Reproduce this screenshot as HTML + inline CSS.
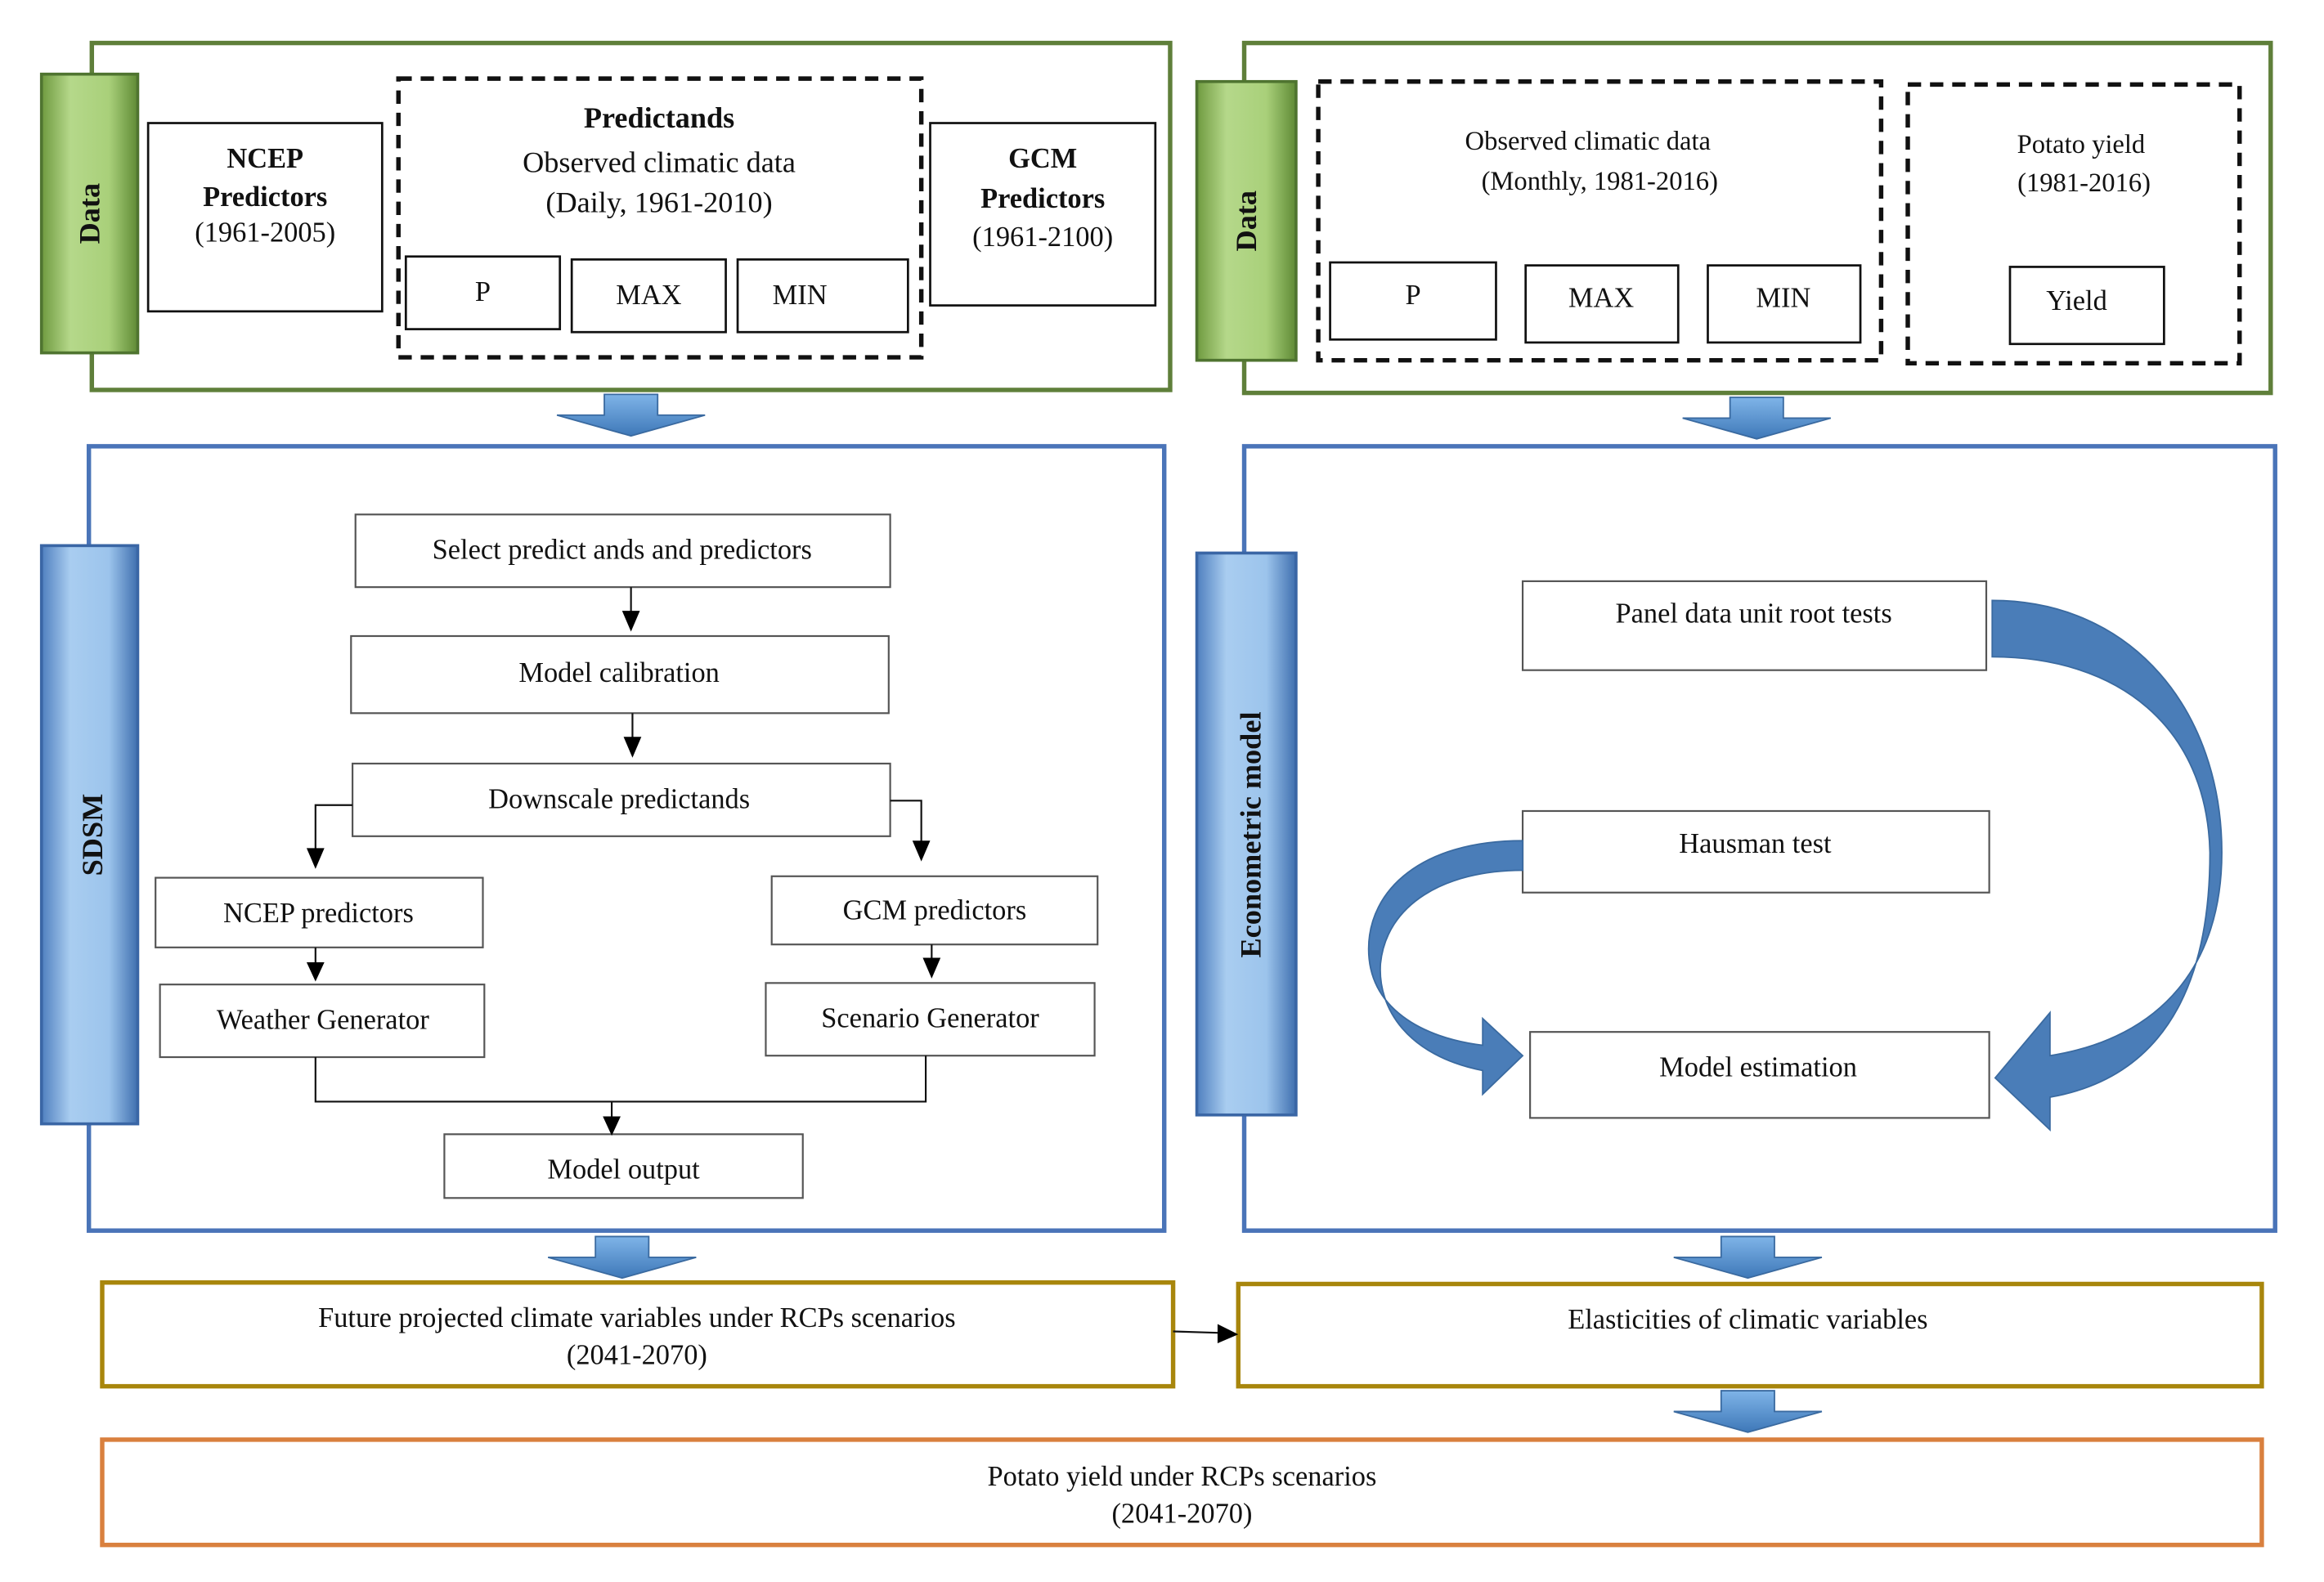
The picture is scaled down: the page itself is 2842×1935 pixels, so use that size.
<!DOCTYPE html>
<html><head><meta charset="utf-8"><style>html,body{margin:0;padding:0;background:#fff}svg{display:block}svg text{font-family:"Liberation Serif","DejaVu Serif",serif}</style></head><body>
<svg width="2842" height="1935" viewBox="0 0 1569 1067" preserveAspectRatio="none" xmlns="http://www.w3.org/2000/svg" font-size="19" fill="#111">
<defs>
<linearGradient id="gt" x1="0" x2="1"><stop offset="0" stop-color="#6f9a3f"/><stop offset="0.3" stop-color="#b5d88a"/><stop offset="0.7" stop-color="#a9d07a"/><stop offset="1" stop-color="#5f8a35"/></linearGradient>
<linearGradient id="bt" x1="0" x2="1"><stop offset="0" stop-color="#4f7fbf"/><stop offset="0.3" stop-color="#a9cdf0"/><stop offset="0.7" stop-color="#9cc4ec"/><stop offset="1" stop-color="#3f6faf"/></linearGradient>
<linearGradient id="ba" x1="0" x2="0" y1="0" y2="1"><stop offset="0" stop-color="#7fb4e8"/><stop offset="1" stop-color="#3e78b8"/></linearGradient>
<g id="da"><path d="M-18,0 H18 V14 H50 L0,28 L-50,14 H-18 Z" fill="url(#ba)" stroke="#3a6aa0" stroke-width="1"/></g>
</defs>
<g fill="none" stroke-width="3">
<rect x="62" y="29" width="728" height="234" stroke="#5f7f3a"/>
<rect x="840" y="29" width="693" height="236" stroke="#5f7f3a"/>
<rect x="60" y="301" width="726" height="529" stroke="#4a74b8"/>
<rect x="840" y="301" width="696" height="529" stroke="#4a74b8"/>
<rect x="69" y="865" width="723" height="70" stroke="#a8860c"/>
<rect x="836" y="866" width="691" height="69" stroke="#a8860c"/>
<rect x="69" y="971" width="1458" height="71" stroke="#d9803e"/>
</g>
<rect x="28" y="50" width="65" height="188" fill="url(#gt)" stroke="#4f7430" stroke-width="2"/>
<rect x="808" y="55" width="67" height="188" fill="url(#gt)" stroke="#4f7430" stroke-width="2"/>
<rect x="28" y="368" width="65" height="390" fill="url(#bt)" stroke="#3a66a5" stroke-width="2"/>
<rect x="808" y="373" width="67" height="379" fill="url(#bt)" stroke="#3a66a5" stroke-width="2"/>
<g font-weight="bold" font-size="20">
<text transform="translate(67,144) rotate(-90)" text-anchor="middle">Data</text>
<text transform="translate(848,149) rotate(-90)" text-anchor="middle">Data</text>
<text transform="translate(69,563) rotate(-90)" text-anchor="middle">SDSM</text>
<text transform="translate(851,563) rotate(-90)" text-anchor="middle">Econometric model</text>
</g>
<g fill="none" stroke="#111" stroke-width="1.5">
<rect x="100" y="83" width="158" height="127"/>
<rect x="628" y="83" width="152" height="123"/>
<rect x="274" y="173" width="104" height="49"/>
<rect x="386" y="175" width="104" height="49"/>
<rect x="498" y="175" width="115" height="49"/>
<rect x="898" y="177" width="112" height="52"/>
<rect x="1030" y="179" width="103" height="52"/>
<rect x="1153" y="179" width="103" height="52"/>
<rect x="1357" y="180" width="104" height="52"/>
<g stroke-dasharray="9,6" stroke-width="3">
<rect x="269" y="53" width="353" height="188"/>
<rect x="890" y="55" width="380" height="188"/>
<rect x="1288" y="57" width="224" height="188"/>
</g>
<g stroke="#555" stroke-width="1.2">
<rect x="240" y="347" width="361" height="49"/>
<rect x="237" y="429" width="363" height="52"/>
<rect x="238" y="515" width="363" height="49"/>
<rect x="105" y="592" width="221" height="47"/>
<rect x="108" y="664" width="219" height="49"/>
<rect x="521" y="591" width="220" height="46"/>
<rect x="517" y="663" width="222" height="49"/>
<rect x="300" y="765" width="242" height="43"/>
<rect x="1028" y="392" width="313" height="60"/>
<rect x="1028" y="547" width="315" height="55"/>
<rect x="1033" y="696" width="310" height="58"/>
</g>
<path d="M426,396 V414 M427,481 V499 M238,543 H213 V574 M601,540 H622 V569 M213,639 V651 M629,637 V648 M213,713 V743 H625 V712 M413,743 V755 M792,898 L824,899" stroke-width="1.2"/>
</g>
<g fill="#000">
<path d="M420,412 H432 L426,426 Z"/><path d="M421,497 H433 L427,511 Z"/>
<path d="M207,572 H219 L213,586 Z"/><path d="M616,567 H628 L622,581 Z"/>
<path d="M207,649 H219 L213,662 Z"/><path d="M623,646 H635 L629,660 Z"/>
<path d="M407,753 H419 L413,766 Z"/><path d="M822,893 V906 L836,900 Z"/>
</g>
<use href="#da" x="426" y="266"/><use href="#da" x="1186" y="268"/>
<use href="#da" x="420" y="834"/><use href="#da" x="1180" y="834"/><use href="#da" x="1180" y="938"/>
<g fill="#4a7db8" stroke="#3a6aa0" stroke-width="1">
<path d="M1345,405 C1440,405 1500,480 1500,575 C1500,650 1460,700 1384,712 L1384,683 L1347,727 L1384,762 L1384,740 C1470,725 1492,650 1492,575 C1490,490 1430,443 1345,443 Z"/>
<path d="M1028,567 C960,567 924,600 924,640 C924,680 960,700 1001,705 L1001,687 L1028,712 L1001,738 L1001,722 C950,712 930,680 932,650 C936,610 975,587 1028,587 Z"/>
</g>
<g text-anchor="middle">
<text x="179" y="113" font-weight="bold">NCEP</text><text x="179" y="139" font-weight="bold">Predictors</text><text x="179" y="163">(1961-2005)</text>
<text x="704" y="113" font-weight="bold">GCM</text><text x="704" y="140" font-weight="bold">Predictors</text><text x="704" y="166">(1961-2100)</text>
<text x="445" y="86" font-weight="bold" font-size="20">Predictands</text>
<text x="445" y="116" font-size="20">Observed climatic data</text>
<text x="445" y="143" font-size="20">(Daily, 1961-2010)</text>
<text x="326" y="203">P</text><text x="438" y="205">MAX</text><text x="540" y="205">MIN</text>
<text x="1072" y="101" font-size="18">Observed climatic data</text>
<text x="1080" y="128" font-size="18">(Monthly, 1981-2016)</text>
<text x="1405" y="103" font-size="18">Potato yield</text><text x="1407" y="129" font-size="18">(1981-2016)</text>
<text x="954" y="205">P</text><text x="1081" y="207">MAX</text><text x="1204" y="207">MIN</text><text x="1402" y="209">Yield</text>
<text x="420" y="377">Select predict ands and predictors</text>
<text x="418" y="460">Model calibration</text>
<text x="418" y="545">Downscale predictands</text>
<text x="215" y="622">NCEP predictors</text>
<text x="218" y="694">Weather Generator</text>
<text x="631" y="620">GCM predictors</text>
<text x="628" y="693">Scenario Generator</text>
<text x="421" y="795">Model output</text>
<text x="1184" y="420">Panel data unit root tests</text>
<text x="1185" y="575">Hausman test</text>
<text x="1187" y="726">Model estimation</text>
<text x="430" y="895">Future projected climate variables under RCPs scenarios</text>
<text x="430" y="920">(2041-2070)</text>
<text x="1180" y="896">Elasticities of climatic variables</text>
<text x="798" y="1002">Potato yield under RCPs scenarios</text>
<text x="798" y="1027">(2041-2070)</text>
</g>
</svg>
</body></html>
